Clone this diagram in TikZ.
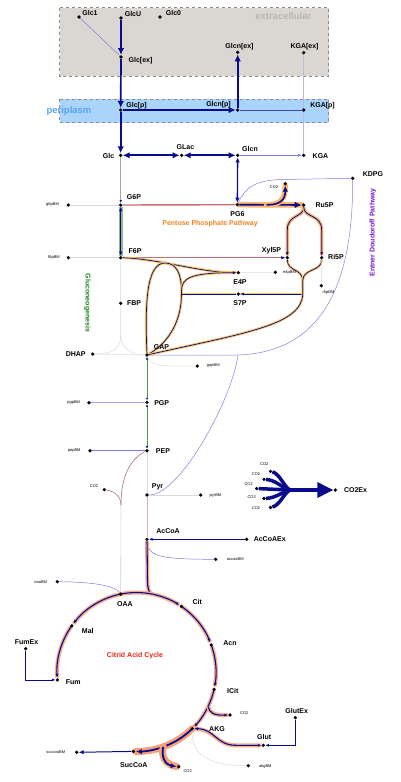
\documentclass[tikz,border=0pt]{standalone}
\usepackage{fontspec}
\setmainfont{Liberation Sans}
\usepackage{tikz}
\usetikzlibrary{arrows.meta,calc,positioning,backgrounds}

\definecolor{navy}{RGB}{10,10,140}
\definecolor{lav}{RGB}{125,125,225}
\definecolor{nofl}{RGB}{218,218,222}
\definecolor{redbr}{RGB}{192,112,112}
\definecolor{pppor}{RGB}{248,182,112}
\definecolor{tkyel}{RGB}{246,198,100}
\definecolor{tcapk}{RGB}{244,172,145}
\definecolor{tcapk2}{RGB}{244,160,120}
\definecolor{gngband}{RGB}{140,185,140}
\definecolor{gngl}{RGB}{70,160,70}
\definecolor{gnggray}{RGB}{150,178,150}
\definecolor{edpl}{RGB}{135,125,232}
\definecolor{ppcl}{RGB}{168,110,140}
\definecolor{ppclight}{RGB}{232,200,208}
\definecolor{pdhl}{RGB}{232,178,178}
\definecolor{exfill}{RGB}{218,214,210}
\definecolor{perifill}{RGB}{170,212,250}
\definecolor{boxgray}{RGB}{140,140,140}
\definecolor{extxt}{RGB}{186,182,178}
\definecolor{peritxt}{RGB}{85,165,240}
\definecolor{ppptxt}{RGB}{240,130,30}
\definecolor{edptxt}{RGB}{120,20,200}
\definecolor{gngtxt}{RGB}{30,130,30}
\definecolor{tcatxt}{RGB}{225,35,20}

\tikzstyle{met} = [circle, fill=black, inner sep=0pt, minimum size=3.6pt]
\tikzstyle{lbl} = [font=\fontsize{7}{8}\selectfont\bfseries, inner sep=0pt]
\tikzstyle{sml} = [font=\fontsize{4}{5}\selectfont, inner sep=0pt]
\tikzstyle{title} = [font=\fontsize{7}{8}\selectfont\bfseries, inner sep=0pt]
\tikzstyle{comp} = [font=\fontsize{9.5}{10}\selectfont\bfseries, inner sep=0pt]
\tikzstyle{excell} = [fill=exfill, draw=boxgray, dashed, line width=0.5pt]
\tikzstyle{pericell} = [fill=perifill, draw=boxgray, dashed, line width=0.5pt]
\tikzstyle{flux} = [draw=navy, line width=1.7pt, -{Latex[length=7pt,width=6.5pt]}]
\tikzstyle{fluxlr} = [flux, {Latex[length=7pt,width=6.5pt]}-{Latex[length=7pt,width=6.5pt]}]
\tikzstyle{smallarr} = [-{Latex[length=3.5pt,width=3pt]}]
\tikzstyle{thinflux} = [draw=lav, line width=0.5pt]
\tikzstyle{noflux} = [draw=nofl, line width=0.5pt]
\tikzstyle{redline} = [draw=redbr, line width=1.4pt]
\tikzstyle{ppp} = [draw=navy, line width=1.6pt, preaction={draw=pppor, line width=5.5pt, line cap=round, -}]
\tikzstyle{pppthin} = [draw=navy, line width=0.8pt, preaction={draw=pppor, line width=3.5pt, -}]
\tikzstyle{tk} = [draw=navy, line width=0.7pt, preaction={draw=tkyel, line width=2.6pt, -}]
\tikzstyle{tca} = [draw=navy, line width=1.1pt, preaction={draw=tcapk, line width=4pt, -}]
\tikzstyle{tcathick} = [draw=navy, line width=1.8pt, preaction={draw=tcapk2, line width=7pt, line cap=round, -}]
\tikzstyle{gngflux} = [draw=navy, line width=0.9pt, {Latex[length=4pt,width=3.5pt]}-{Latex[length=4pt,width=3.5pt]}, preaction={draw=gngband, line width=4pt, -}]
\tikzstyle{gngline} = [draw=gngl, line width=0.9pt, {Latex[length=2.5pt,width=2.2pt,color=navy]}-{Latex[length=2.5pt,width=2.2pt,color=navy]}]
\tikzstyle{edp} = [draw=edpl, line width=0.5pt]
\tikzstyle{ppcline} = [draw=ppcl, line width=0.6pt]
\tikzstyle{pdhline} = [draw=pdhl, line width=0.9pt]
\tikzstyle{co2flux} = [draw=navy, line width=3.5pt]

\begin{document}
\begin{tikzpicture}[x=1pt,y=-1pt]
\useasboundingbox (0,0) rectangle (400,782);

\node[comp, text=extxt] (extra) at (283.3,16.5) {extracellular};
\node[comp, text=peritxt] (peri) at (69,111.5) {periplasm};

% extracellular and periplasm
\node[met] (glc1) at (79,17) {};          \node[lbl] (glc1t) at (90,13) {Glc1};
\node[met] (glcu) at (121,18) {};         \node[lbl] (glcut) at (133,14) {GlcU};
\node[met] (glc0) at (160,17) {};         \node[lbl] (glc0t) at (173.5,13) {Glc0};
\node[met] (glcex) at (121,57) {};        \node[lbl] (glcext) at (140.5,61) {Glc[ex]};
\node[met] (glcnex) at (237.7,52.3) {};   \node[lbl] (glcnext) at (239.5,46.5) {Glcn[ex]};
\node[met] (kgaex) at (303.7,52.7) {};    \node[lbl] (kgaext) at (304.5,46.5) {KGA[ex]};
\node[met] (glcp) at (120.7,110) {};      \node[lbl] (glcpt) at (136.5,106) {Glc[p]};
\node[met] (glcnp) at (237.7,110) {};     \node[lbl] (glcnpt) at (218.5,105) {Glcn[p]};
\node[met] (kgap) at (303.7,110) {};      \node[lbl] (kgapt) at (322.5,106) {KGA[p]};

% upper glycolysis and pentose phosphates
\node[met] (glc) at (120.7,155.3) {};     \node[lbl] (glct) at (108.5,155.5) {Glc};
\node[met] (glac) at (181.7,155.3) {};    \node[lbl] (glact) at (185.5,147.5) {GLac};
\node[met] (glcn) at (237.7,155.3) {};    \node[lbl] (glcnt) at (250,149) {Glcn};
\node[met] (kga) at (303.7,155.3) {};     \node[lbl] (kgat) at (320.5,155.7) {KGA};
\node[met] (kdpg) at (352.7,178.3) {};    \node[lbl] (kdpgt) at (373,173.7) {KDPG};
\node[met] (g6p) at (120.7,205) {};       \node[lbl] (g6pt) at (134,196.7) {G6P};
\node[met] (g6pbm) at (68.3,205) {};      \node[sml] (g6pbmt) at (52.5,205) {g6pBM};
\node[met] (pg6) at (237.3,204.7) {};     \node[lbl] (pg6t) at (237.5,214) {PG6};
\node[met] (ru5p) at (303.7,205) {};      \node[lbl] (ru5pt) at (324.5,204.7) {Ru5P};
\node[met] (co2a) at (285.3,183.7) {};    \node[sml] (co2at) at (274,187) {CO2};
\node[met] (f6p) at (120.7,257.7) {};     \node[lbl] (f6pt) at (135,250.7) {F6P};
\node[met] (f6pbm) at (68.3,257.7) {};    \node[sml] (f6pbmt) at (54,257.5) {f6pBM};
\node[met] (xyl5p) at (287.3,257.7) {};   \node[lbl] (xyl5pt) at (271.5,251) {Xyl5P};
\node[met] (ri5p) at (321.7,257.7) {};    \node[lbl] (ri5pt) at (336,256.7) {Ri5P};
\node[met] (e4p) at (238.3,272.7) {};     \node[lbl] (e4pt) at (240,282.3) {E4P};
\node[met] (e4pbm) at (275.3,272.3) {};   \node[sml] (e4pbmt) at (289.5,273) {e4pBM};
\node[met] (s7p) at (238.3,294) {};       \node[lbl] (s7pt) at (240,303.3) {S7P};
\node[met] (r5pbm) at (321.3,285.7) {};   \node[sml] (r5pbmt) at (328.5,292.7) {r5pBM};
\node[met] (fbp) at (120.7,303.3) {};     \node[lbl] (fbpt) at (134,303.3) {FBP};
\node[met] (dhap) at (92.7,354) {};       \node[lbl] (dhapt) at (75.7,354) {DHAP};
\node[met] (gap) at (147,355) {};         \node[lbl] (gapt) at (161.5,347.3) {GAP};
\node[met] (gapbm) at (197.3,366) {};     \node[sml] (gapbmt) at (213.3,366) {gapBM};

% lower glycolysis
\node[met] (pgp) at (147,402.3) {};       \node[lbl] (pgpt) at (161.7,402.7) {PGP};
\node[met] (pgpbm) at (89,402.7) {};      \node[sml] (pgpbmt) at (73.7,403) {pgpBM};
\node[met] (pep) at (147,450.7) {};       \node[lbl] (pept) at (163,450.7) {PEP};
\node[met] (pepbm) at (90,450.7) {};      \node[sml] (pepbmt) at (74.2,451) {pepBM};
\node[met] (co2b) at (104.3,489.7) {};    \node[sml] (co2bt) at (94,486) {CO2};
\node[met] (pyr) at (147,495) {};         \node[lbl] (pyrt) at (157.5,487.3) {Pyr};
\node[met] (pyrbm) at (200.7,495) {};     \node[sml] (pyrbmt) at (215.5,495.7) {pyrBM};
\node[met] (accoa) at (147,539.3) {};     \node[lbl] (accoat) at (168,531) {AcCoA};
\node[met] (accoaex) at (246.7,539.3) {}; \node[lbl] (accoaext) at (269.7,539.3) {AcCoAEx};
\node[met] (accoabm) at (215.7,559.3) {}; \node[sml] (accoabmt) at (235.3,559.3) {accoaBM};

% CO2 exchange
\node[met] (co2c1) at (270.5,471.3) {};   \node[sml] (co2c1t) at (264.3,464.3) {CO2};
\node[met] (co2c2) at (264,479.3) {};     \node[sml] (co2c2t) at (256,473.7) {CO2};
\node[met] (co2c3) at (256.7,488.5) {};   \node[sml] (co2c3t) at (248.7,483.7) {CO2};
\node[met] (co2c4) at (264,498.5) {};     \node[sml] (co2c4t) at (251.7,497) {CO2};
\node[met] (co2c5) at (270.5,507.5) {};   \node[sml] (co2c5t) at (256,507.7) {CO2};
\node[met] (co2ex) at (335.3,490) {};     \node[lbl] (co2ext) at (355.5,490) {CO2Ex};

% citric acid cycle
\node[met] (oaabm) at (57.3,581.7) {};    \node[sml] (oaabmt) at (40.7,582) {oaaBM};
\node[met] (oaa) at (120.65,594.1) {};    \node[lbl] (oaat) at (125,604) {OAA};
\node[met] (cit) at (181.3,606.3) {};     \node[lbl] (citt) at (197.2,602) {Cit};
\node[met] (acn) at (211.25,644.9) {};    \node[lbl] (acnt) at (230,643.3) {Acn};
\node[met] (mal) at (71.8,625.8) {};      \node[lbl] (malt) at (87.8,630.7) {Mal};
\node[met] (fumex) at (25.7,648.7) {};    \node[lbl] (fumext) at (26.5,642.3) {FumEx};
\node[met] (fum) at (57.4,679.9) {};      \node[lbl] (fumt) at (73.3,681.7) {Fum};
\node[met] (icit) at (214.1,689.2) {};    \node[lbl] (icitt) at (232.8,691) {ICit};
\node[met] (co2d) at (230,715) {};        \node[sml] (co2dt) at (244.3,712.7) {CO2};
\node[met] (glutex) at (295.3,717.7) {};  \node[lbl] (glutext) at (296.7,710.7) {GlutEx};
\node[met] (akg) at (192.3,728.6) {};     \node[lbl] (akgt) at (217,729.3) {AKG};
\node[met] (glut) at (263.3,745.3) {};    \node[lbl] (glutt) at (264.2,737.3) {Glut};
\node[met] (succoa) at (133.3,751.4) {};  \node[lbl] (succoat) at (133.8,764.7) {SucCoA};
\node[met] (succoabm) at (76.7,752.3) {}; \node[sml] (succoabmt) at (55.8,752.3) {succoaBM};
\node[met] (co2e) at (178.7,766.7) {};    \node[sml] (co2et) at (187.7,771) {CO2};
\node[met] (akgbm) at (248.3,765.7) {};   \node[sml] (akgbmt) at (265.3,766) {akgBM};

\node[title, text=ppptxt] (ppptitle) at (210,223.3) {Pentose Phosphate Pathway};
\node[title, text=edptxt, rotate=90] (edptitle) at (372.7,232.5) {Entner Doudoroff Pathway};
\node[title, text=gngtxt, rotate=-90] (gngtitle) at (87.3,303) {Gluconeogenesis};
\node[title, text=tcatxt] (tcatitle) at (135,655.3) {Citrid Acid Cycle};

\begin{scope}[on background layer]
\draw[excell] (59.5,7.5) rectangle (328.5,76);
\draw[pericell] (59.5,99) rectangle (328.5,122.5);

% uptake
\draw[thinflux] (glc1) -- (glcex);
\draw[flux] (glcu) -- (glcex);
\draw[noflux] (glc0) -- (glcex);
\draw[flux] (glcex) -- (glcp);
\draw[flux] (glcp) -- (glcnp);
\draw[flux] (glcnp) -- (glcnex);
\draw[thinflux, draw=navy!75, line width=0.6pt] (glcnp) -- (kgap);
\draw[thinflux, draw=lav!55] (kgaex) -- (kgap);
\draw[thinflux, draw=lav!55] (kgap) -- (kga);
\draw[flux] (glcp) -- (glc);
\draw[fluxlr] (glc) -- (glac);
\draw[fluxlr] (glac) -- (glcn);
\draw[thinflux, smallarr] (glcn) -- (kga);
\draw[draw=navy, line width=1.3pt, {Latex[length=5pt,width=4.5pt]}-{Latex[length=5pt,width=4.5pt]}] (glcn) -- (pg6);

% Entner Doudoroff
\draw[edp] (pg6) .. controls (245,188) and (255,180) .. (282,179.5) -- (kdpg);
\draw[edp] (kdpg) .. controls (353,280) and (325,352) .. (238,355) coordinate (edpj) -- (gap);
\draw[edp] (edpj) .. controls (232,400) and (180,495) .. (pyr);

% upper glycolysis
\draw[draw=gnggray, line width=1pt, -{Latex[length=3pt,width=2.5pt,color=navy]}] (glc) -- (g6p);
\draw[gngflux] (g6p) -- (f6p);
\draw[noflux] (g6pbm) -- (g6p);
\draw[noflux] (f6pbm) -- (f6p);

% oxidative PPP
\draw[redline] (g6p) -- (pg6);
\coordinate (pppj) at ($(pg6)!0.44!(ru5p)$);
\draw[ppp, -{Latex[length=7pt,width=6.5pt]}] (pg6) -- (ru5p);
\draw[ppp, -{Latex[length=6pt,width=5.5pt]}] (pppj) .. controls (280,205) and (285.3,200) .. (co2a);
\draw[pppthin, smallarr] (ru5p) .. controls (303.7,218) and (287.3,214) .. (287.3,230) -- (xyl5p);
\draw[pppthin, smallarr] (ru5p) .. controls (303.7,218) and (321.7,214) .. (321.7,230) -- (ri5p);
\draw[redline, -{Latex[length=4pt,width=3.5pt,color=navy]}] (f6p) -- (xyl5p);

% non-oxidative PPP
\coordinate (taj) at (181.5,291);
\coordinate (tas) at (181.5,294);
\coordinate (tkm) at (302.7,281);
\coordinate (tkj) at (302.7,294);
\draw[tk, smallarr] (f6p) .. controls (160,259) and (200,272.5) .. (e4p);
\draw[tk] (gap) .. controls (145,305) and (146,263) .. (165,263) .. controls (177,263) and (181.5,275) .. (taj) -- (tas) .. controls (181.5,325) and (165,345) .. (gap);
\draw[tk, smallarr] (taj) .. controls (181.5,278) and (190,272.7) .. (e4p);
\draw[tk] (tas) -- (s7p);
\draw[tk, smallarr] (tkj) -- (s7p);
\draw[tk] (xyl5p) .. controls (287.3,272) and (302.7,268) .. (tkm);
\draw[tk] (ri5p) .. controls (321.7,272) and (302.7,268) .. (tkm);
\draw[tk] (tkm) -- (tkj) .. controls (302,325) and (245,333) .. (gap);
\draw[noflux] (e4p) -- (e4pbm);
\draw[noflux] (ri5p) -- (r5pbm);

% trioses
\coordinate (fbpj) at (120.7,336);
\draw[noflux] (f6p) -- (fbp) -- (fbpj) .. controls (120.7,350) and (110,354) .. (dhap);
\draw[noflux] (fbpj) .. controls (120.7,350) and (135,355) .. (gap);
\draw[noflux] (dhap) -- (gap);
\draw[noflux] (gap) .. controls (150,367) and (165,366) .. (gapbm);

% lower glycolysis
\draw[gngline] (gap) -- (pgp);
\draw[gngline] (pgp) -- (pep);
\draw[thinflux] (pgpbm) -- (pgp);
\draw[thinflux] (pepbm) -- (pep);
\draw[noflux] (pep) -- (pyr);
\draw[noflux] (pyr) -- (pyrbm);
\draw[ppcline] (pep) .. controls (128,460) and (121,480) .. (121,505) coordinate (ppcj);
\draw[ppcline] (co2b) .. controls (114,491) and (121,496) .. (ppcj);
\draw[ppcline, draw=ppclight] (ppcj) -- (oaa);
\draw[pdhline] (pyr) -- (accoa);
\draw[draw=navy, line width=0.7pt, smallarr] (accoaex) -- (accoa);
\draw[thinflux] (accoa) .. controls (148,556) and (158,559.3) .. (accoabm);
\draw[thinflux] (oaabm) .. controls (95,582) and (115,586) .. (oaa);

% CO2 exchange
\coordinate (co2m) at (290,490);
\draw[co2flux] (co2c1) .. controls (280,474) and (284,487) .. (co2m);
\draw[co2flux] (co2c2) .. controls (276,480) and (282,488) .. (co2m);
\draw[co2flux] (co2c3) -- (co2m);
\draw[co2flux] (co2c4) .. controls (276,498) and (282,492) .. (co2m);
\draw[co2flux] (co2c5) .. controls (280,505) and (284,493) .. (co2m);
\draw[co2flux, -{Triangle[length=16pt,width=15pt]}] (co2m) -- (co2ex);

% citric acid cycle
\coordinate (tcaj) at (152.8,594.2);
\coordinate (tcab1) at (208.1,706.6);
\coordinate (tcab2) at (163.2,746.9);
\draw[tca] (accoa) -- (147.5,580) .. controls (147.5,589) and (149,593.8) .. (tcaj);
\draw[tca] (oaa) arc[start angle=101.5, end angle=78.2, radius=79.5pt];
\draw[tca, smallarr] (tcaj) arc[start angle=78.2, end angle=57.5, radius=79.5pt];
\draw[tca, smallarr] (cit) arc[start angle=55.7, end angle=22, radius=79.5pt];
\draw[tca, smallarr] (acn) arc[start angle=19.9, end angle=-10.5, radius=79.5pt];
\draw[tca] (icit) arc[start angle=-12.5, end angle=-25.8, radius=79.5pt];
\draw[tca, smallarr] (tcab1) arc[start angle=-25.8, end angle=-43.5, radius=79.5pt];
\draw[tca, smallarr] (tcab1) .. controls (209.5,713) and (214,715.5) .. (co2d);
\draw[tca, smallarr] (oaa) arc[start angle=101.5, end angle=142.5, radius=79.5pt];
\draw[tca, smallarr] (mal) arc[start angle=144.5, end angle=184, radius=79.5pt];
\draw[tcathick] (akg) arc[start angle=-45.4, end angle=-70.4, radius=79.5pt];
\draw[tcathick, -{Latex[length=6pt,width=5pt]}] (tcab2) arc[start angle=-70.4, end angle=-90.5, radius=79.5pt];
\draw[tcathick, -{Latex[length=6pt,width=5pt]}] (tcab2) .. controls (161,756) and (165,765) .. (co2e);
\draw[tca, {Latex[length=3.5pt,width=3pt]}-{Latex[length=3.5pt,width=3pt]}] (akg) .. controls (215,729) and (216,745.3) .. (236,745.3) -- (glut);
\draw[draw=navy, line width=0.7pt, smallarr] (glutex) |- (glut);
\draw[draw=navy, line width=0.7pt, smallarr] (fumex) |- (fum);
\draw[draw=navy, line width=1pt, -{Latex[length=5pt,width=4.5pt]}] (succoa) -- (succoabm);
\draw[noflux] (akg) .. controls (191,752) and (205,765.7) .. (akgbm);
\end{scope}
\end{tikzpicture}
\end{document}
